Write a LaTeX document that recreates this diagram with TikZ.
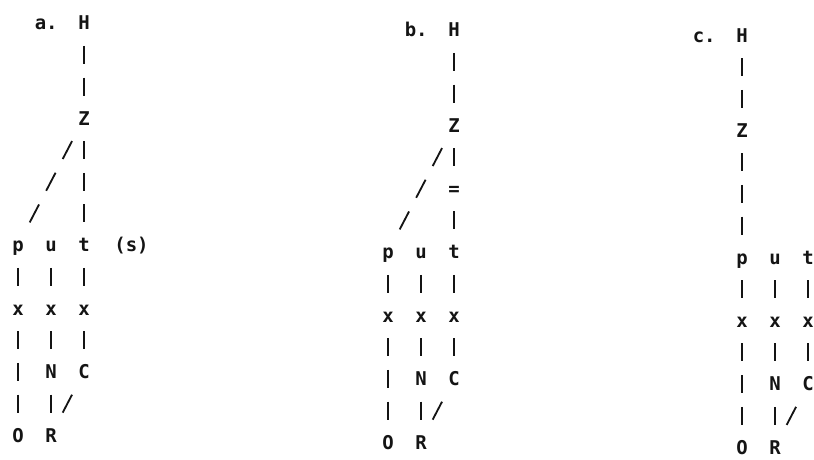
\documentclass[tikz,border=0pt]{standalone}
\usepackage{fontspec}
\usepackage{tikz}
\usetikzlibrary{positioning}
\newfontfamily\dotfont{DejaVu Sans Mono}
\definecolor{ink}{RGB}{20,20,20}
\tikzset{
  ch/.style={font=\dotfont\bfseries\fontsize{13.5}{15}\selectfont, text=ink,
    inner sep=0pt, minimum width=0.45cm, minimum height=0.45cm,
    text height=0.3985cm, text depth=0.0515cm},
  bar/.style={color=ink, line width=1.3pt,
    dash pattern=on 0.45cm off 0.3425cm, dash phase=0.45cm},
  slash/.style={color=ink, line width=1.3pt,
    dash pattern=on 0.507cm off 0.386cm, dash phase=0.507cm}
}
\begin{document}
\begin{tikzpicture}[x=0.825cm, y=-0.7925cm]
  \useasboundingbox (0,0) rectangle (20.35cm,-11.475cm);

  % the three trees: name / column of H and Z / shift
  \foreach \tr/\hc/\sx/\sy in {a/2/0.45/0.575, b/2/9.7/0.75, c/0/18.55/0.88} {
    \begin{scope}[xshift=\sx cm, yshift=-\sy cm]
      \node[ch] (\tr H) at (\hc,0) {H};
      \node[ch, left=0.42cm of \tr H] (\tr lab) {\tr.};
      \node[ch] (\tr Z) at (\hc,3) {Z};
      \node[ch] (\tr p) at (0,7) {p};
      \node[ch] (\tr u) at (1,7) {u};
      \node[ch] (\tr t) at (2,7) {t};
      \node[ch] (\tr px) at (0,9) {x};
      \node[ch] (\tr ux) at (1,9) {x};
      \node[ch] (\tr tx) at (2,9) {x};
      \node[ch] (\tr N) at (1,11) {N};
      \node[ch] (\tr C) at (2,11) {C};
      \node[ch] (\tr O) at (0,13) {O};
      \node[ch] (\tr R) at (1,13) {R};
    \end{scope}
    \draw[bar] (\tr H) -- (\tr Z);
    \draw[bar] (\tr p) -- (\tr px);
    \draw[bar] (\tr px) -- (\tr O);
    \draw[bar] (\tr u) -- (\tr ux);
    \draw[bar] (\tr ux) -- (\tr N);
    \draw[bar] (\tr N) -- (\tr R);
    \draw[bar] (\tr t) -- (\tr tx);
    \draw[bar] (\tr tx) -- (\tr C);
    \draw[slash] (\tr C) -- (\tr R);
  }

  % a.
  \node[ch, right=0.52cm of at] (as) {(s)};
  \draw[slash] (aZ) -- (ap);
  \draw[bar] (aZ) -- (at);

  % b.
  \path (bZ) -- (bt) node[ch, midway] (beq) {=};
  \draw[slash] (bZ) -- (bp);
  \draw[bar] (bZ) -- (beq);
  \draw[bar] (beq) -- (bt);

  % c.
  \draw[bar] (cZ) -- (cp);
\end{tikzpicture}
\end{document}
